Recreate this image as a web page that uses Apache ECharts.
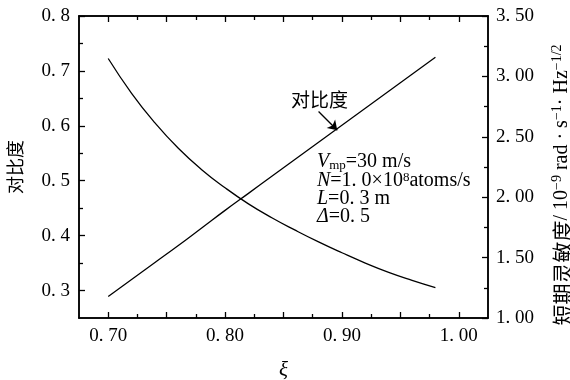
<!DOCTYPE html>
<html><head><meta charset="utf-8">
<script src="https://cdn.jsdelivr.net/npm/echarts@6/dist/echarts.min.js"></script>
<style>html,body{margin:0;padding:0;background:#fff}#c{width:570px;height:380px}</style>
</head><body><div id="c"></div>
<script>
// ---- data ----
const xi = [0.70, 0.72, 0.74, 0.76, 0.78, 0.80, 0.82, 0.84, 0.86, 0.88, 0.90, 0.92, 0.94, 0.96, 0.98];
const contrast = [0.289, 0.320, 0.351, 0.382, 0.414, 0.446, 0.477, 0.508, 0.539, 0.570, 0.601, 0.632, 0.663, 0.694, 0.725];
const sensitivity = [3.148, 2.860, 2.615, 2.405, 2.228, 2.078, 1.945, 1.830, 1.727, 1.630, 1.540, 1.455, 1.378, 1.312, 1.252];
const xMajorTicks = [0.70, 0.75, 0.80, 0.85, 0.90, 0.95, 1.00];
const xMinorTicks = [0.725, 0.775, 0.825, 0.875, 0.925, 0.975];
const xLabels = [0.70, 0.80, 0.90, 1.00];
const leftTicks = [0.3, 0.4, 0.5, 0.6, 0.7, 0.8];
const leftMinor = [0.35, 0.45, 0.55, 0.65, 0.75];
const rightTicks = [1.0, 1.5, 2.0, 2.5, 3.0, 3.5];
const rightMinor = [1.25, 1.75, 2.25, 2.75, 3.25];
const arrowFrom = [0.880, 0.626];
const arrowTo = [0.896, 0.592];

const SERIF = "'Liberation Serif','DejaVu Serif',serif";
const CJK = "'Noto Sans CJK SC','Noto Sans',sans-serif";
const fmt = (d) => (v) => v.toFixed(d).replace('.', '. ');

function ax(opts) {
  const o = {
    type: 'value', min: opts.min, max: opts.max, position: opts.position,
    axisLine: { show: true, onZero: false, lineStyle: { color: '#000', width: 1.5 } },
    splitLine: { show: false },
    axisTick: { show: true, inside: true, length: opts.len, customValues: opts.ticks, lineStyle: { color: '#000', width: 1.3 } },
    axisLabel: { show: false }
  };
  if (opts.labels) {
    o.axisLabel = { show: true, customValues: opts.labels, formatter: opts.formatter, color: '#000', fontFamily: SERIF, fontSize: 19, margin: opts.margin };
  }
  return o;
}

const xa = [
  Object.assign(ax({ min: 0.675, max: 1.025, position: 'bottom', len: 6, ticks: xMajorTicks, labels: xLabels, formatter: fmt(2), margin: 9 }),
    { name: 'ξ', nameLocation: 'middle', nameGap: 42, nameTextStyle: { fontFamily: SERIF, fontStyle: 'italic', fontSize: 21, color: '#000' } }),
  ax({ min: 0.675, max: 1.025, position: 'top', len: 6, ticks: xMajorTicks }),
  ax({ min: 0.675, max: 1.025, position: 'bottom', len: 4, ticks: xMinorTicks }),
  ax({ min: 0.675, max: 1.025, position: 'top', len: 4, ticks: xMinorTicks })
];
const ya = [
  Object.assign(ax({ min: 0.25, max: 0.8, position: 'left', len: 6, ticks: leftTicks, labels: leftTicks, formatter: fmt(1), margin: 9 }),
    { name: '对比度', nameLocation: 'middle', nameRotate: 90, nameGap: 55, nameTextStyle: { fontFamily: CJK, fontSize: 18, color: '#000' } }),
  Object.assign(ax({ min: 1.0, max: 3.5, position: 'right', len: 6, ticks: rightTicks, labels: rightTicks, formatter: fmt(2), margin: 8 }),
    { name: '{cn|短期灵敏度}{t|/ 10}{sup|−9}{t| rad · s}{sup|−1}{t|· Hz}{sup|−1/2}', nameLocation: 'middle', nameRotate: 90, nameGap: 62,
      nameTextStyle: { color: '#000', padding: [0, 36, 0, 0], rich: {
        cn: { fontFamily: CJK, fontSize: 21, color: '#000', lineHeight: 24 },
        t: { fontFamily: SERIF, fontSize: 20, color: '#000', lineHeight: 24 },
        sup: { fontFamily: SERIF, fontSize: 14, color: '#000', verticalAlign: 'top', lineHeight: 24 }
      } } }),
  ax({ min: 0.25, max: 0.8, position: 'left', len: 4, ticks: leftMinor }),
  ax({ min: 1.0, max: 3.5, position: 'right', len: 4, ticks: rightMinor })
];

const chart = echarts.init(document.getElementById('c'), null, { renderer: 'canvas' });
const lineStyle = { color: '#000', width: 1.3 };
const R = (extra) => Object.assign({
  i: { fontFamily: SERIF, fontStyle: 'italic', fontSize: 20, fill: '#000', lineHeight: 20 },
  n: { fontFamily: SERIF, fontSize: 20, fill: '#000', lineHeight: 20 }
}, extra);
chart.setOption({
  animation: false,
  backgroundColor: '#fff',
  grid: { left: 79, right: 82, top: 16, bottom: 62, containLabel: false, outerBoundsMode: 'none' },
  xAxis: xa,
  yAxis: ya,
  series: [
    {
      name: '对比度', type: 'line', xAxisIndex: 0, yAxisIndex: 0, smooth: true, symbol: 'none',
      lineStyle: lineStyle, data: xi.map((x, i) => [x, contrast[i]]),
      markLine: {
        silent: true, symbol: ['none', 'arrow'], symbolSize: 9, label: { show: false },
        lineStyle: { color: '#000', width: 1.3, type: 'solid' },
        emphasis: { disabled: true },
        data: [[{ coord: arrowFrom }, { coord: arrowTo }]]
      }
    },
    {
      name: '短期灵敏度', type: 'line', xAxisIndex: 0, yAxisIndex: 1, smooth: true, symbol: 'none',
      lineStyle: lineStyle, data: xi.map((x, i) => [x, sensitivity[i]])
    }
  ],
  graphic: [
    { type: 'text', x: 291, y: 100, style: { text: '对比度', font: "19px 'Noto Sans CJK SC'", fill: '#000', verticalAlign: 'middle' } },
    { type: 'text', x: 317, y: 162, style: { text: '{i|V}{sub|mp}{n|=30 m/s}', verticalAlign: 'middle', rich: R({
        sub: { fontFamily: SERIF, fontSize: 13, fill: '#000', verticalAlign: 'bottom', lineHeight: 20 } }) } },
    { type: 'text', x: 317, y: 181, style: { text: '{i|N}{n|=1. 0×10}{sup|8}{n|atoms/s}', verticalAlign: 'middle', rich: R({
        sup: { fontFamily: SERIF, fontSize: 13, fill: '#000', verticalAlign: 'top', lineHeight: 20 } }) } },
    { type: 'text', x: 317, y: 199, style: { text: '{i|L}{n|=0. 3 m}', verticalAlign: 'middle', rich: R({}) } },
    { type: 'text', x: 317, y: 217, style: { text: '{i|Δ}{n|=0. 5}', verticalAlign: 'middle', rich: R({}) } }
  ]
});
</script></body></html>
